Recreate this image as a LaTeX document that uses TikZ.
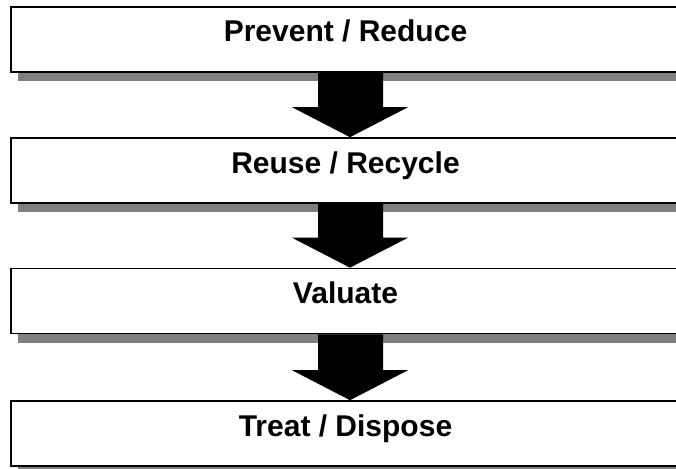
\documentclass[tikz,border=0pt]{standalone}
\usepackage{fontspec}
\setmainfont{Liberation Sans}
\usetikzlibrary{shadows,calc}

\tikzset{
  stage/.style={draw=black, line width=1.6pt, fill=white,
    minimum width=669pt, minimum height=65pt, inner sep=0pt,
    text height=21pt, text depth=16pt,
    font=\fontsize{30}{35}\selectfont\bfseries,
    drop shadow={shadow xshift=7pt, shadow yshift=-9pt, fill=gray, opacity=1}},
  blockarrow/.style={fill=black}
}

\begin{document}
\begin{tikzpicture}[x=1pt,y=-1pt]
\useasboundingbox (0,0) rectangle (676,468);
\clip (0,0) rectangle (676,468);

\node[stage] (prev)   at (345.5, 39.5) {Prevent / Reduce};
\node[stage] (reuse)  at (345.5,170.5) {Reuse / Recycle};
\node[stage] (val)    at (345.5,301.0) {Valuate};
\node[stage] (treat)  at (345.5,433.5) {Treat / Dispose};

% block arrows between the stages
\foreach \a/\b in {prev/reuse, reuse/val, val/treat}{
  \fill[blockarrow] ($(\a.south)+(-27.5,0)$) -- ($(\a.south)+(37.5,0)$)
     -- ($(\b.north)+(37.5,-30)$) -- ($(\b.north)+(62.5,-30)$)
     -- ($(\b.north)+(4.5,0)$)
     -- ($(\b.north)+(-53.5,-30)$) -- ($(\b.north)+(-27.5,-30)$) -- cycle;
}

\end{tikzpicture}
\end{document}
